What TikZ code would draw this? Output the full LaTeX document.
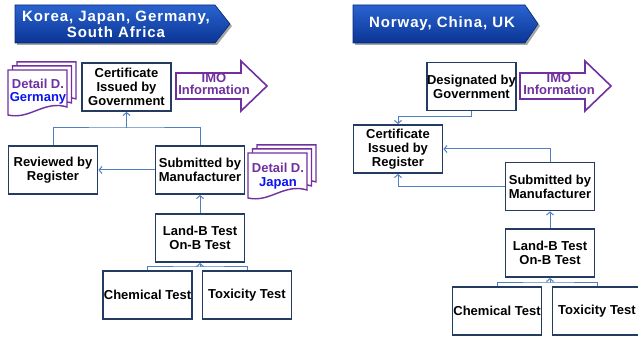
\documentclass[tikz,border=0pt]{standalone}
\usepackage{fontspec}
\setmainfont{Liberation Sans}
\usetikzlibrary{arrows.meta,calc}
\definecolor{navy}{HTML}{243B62}
\definecolor{conn}{HTML}{4F7FC0}
\definecolor{purp}{HTML}{7030A0}
\definecolor{docblue}{HTML}{0A14F0}
\definecolor{bantop}{HTML}{2A63D0}
\definecolor{banbot}{HTML}{0A3594}
\tikzset{
  box/.style={draw=navy,line width=1.8pt,fill=white,minimum width=89pt,minimum height=48pt,inner sep=0pt,align=center,font=\bfseries\fontsize{13}{14}\selectfont},
  arr/.style={draw=conn,line width=1pt,-{Straight Barb[length=3pt,width=7pt]}},
  ln/.style={draw=conn,line width=1pt},
  docline/.style={draw=purp,line width=1.4pt,fill=white},
  doctxt/.style={inner sep=0pt,font=\bfseries\fontsize{13}{14}\selectfont},
  imo/.style={draw=purp,line width=1.6pt,fill=white},
  imotxt/.style={inner sep=0pt,align=center,text=purp,font=\bfseries\fontsize{13}{11.5}\selectfont},
  banner/.style={top color=bantop,bottom color=banbot,draw=banbot!80!black,line width=0.6pt},
  bantxt/.style={inner sep=0pt,align=center,text=white,font=\bfseries\fontsize{15}{16.5}\selectfont\addfontfeature{LetterSpace=6}}
}
\newcommand\mydocstack[2]{%
  \foreach \d in {9,4.5,0}{%
    \filldraw[docline] (#1+\d,#2-0.9*\d) -- (#1+\d+59,#2-0.9*\d) -- (#1+\d+59,#2-0.9*\d+37)
      .. controls (#1+\d+36,#2-0.9*\d+30) and (#1+\d+22,#2-0.9*\d+50) .. (#1+\d,#2-0.9*\d+45) -- cycle;
  }%
}
\begin{document}
\begin{tikzpicture}[x=1pt,y=-1pt]
\useasboundingbox (0,0) rectangle (638,339);
\clip (0,0) rectangle (638,339);
% ---------------- banners
\fill[black!35] (17,7) -- (217,7) -- (232,26) -- (217,45) -- (17,45) -- cycle;
\path[banner] (15,5) -- (215,5) -- (230,24) -- (215,43) -- (15,43) -- cycle;
\node[bantxt] (banL) at (116,24.5) {Korea, Japan, Germany,\\South Africa};
\fill[black!35] (355,7) -- (527,7) -- (540,26) -- (527,45) -- (355,45) -- cycle;
\path[banner] (353,5) -- (525,5) -- (538,24) -- (525,43) -- (353,43) -- cycle;
\node[bantxt] (banR) at (442,24) {Norway, China, UK};
% ---------------- left diagram
\node[box] (cert) at (126.5,87) {Certificate\\Issued by\\Government};
\node[box] (rev) at (53,170) {Reviewed by\\Register};
\node[box] (sub) at (200,170) {Submitted by\\Manufacturer};
\node[box] (land) at (200,238) {Land-B Test\\On-B Test};
\node[box] (chem) at (147.5,295) {Chemical Test};
\node[box] (tox) at (247,295) {Toxicity Test};
\coordinate (j1) at (126.5,128);
\coordinate (j2) at (200,267);
\draw[ln] (rev.north) |- (j1) -| (sub.north);
\draw[arr] (j1) -- (cert.south);
\draw[arr] (sub.west) -- (rev.east);
\draw[arr] (land.north) -- (sub.south);
\draw[ln] (chem.north) |- (j2) -| (tox.north);
\draw[arr] (j2) -- (land.south);
% IMO arrow left
\path[imo] (176,73) -- (241,73) -- (241,61) -- (267,86) -- (241,111) -- (241,99) -- (176,99) -- cycle;
\node[imotxt] (imoL) at (214,84) {IMO\\Information};
\draw[purp,line width=1.6pt] (176,73) -- (241,73);
% documents
\mydocstack{8}{70}
\node[doctxt,text=purp] (gdet) at (38,84) {Detail D.};
\node[doctxt,text=docblue] (gname) at (38,98) {Germany};
\mydocstack{248}{153}
\node[doctxt,text=purp] (jdet) at (278,168) {Detail D.};
\node[doctxt,text=docblue] (jname) at (278,183) {Japan};
% ---------------- right diagram
\node[box] (desg) at (471.5,86.5) {Designated by\\Government};
\node[box] (certR) at (398,149) {Certificate\\Issued by\\Register};
\node[box] (subR) at (550,186.5) {Submitted by\\Manufacturer};
\node[box] (landR) at (550,253) {Land-B Test\\On-B Test};
\node[box] (chemR) at (497,311) {Chemical Test};
\node[box] (toxR) at (597,311) {Toxicity Test};
\coordinate (j3) at (398,117);
\coordinate (j4) at (550,283);
\draw[ln] (desg.south) |- (j3);
\draw[arr] (j3) -- (certR.north);
\draw[arr] (subR.north) |- (certR.east);
\draw[arr] (subR.west) -| (certR.south);
\draw[arr] (landR.north) -- (subR.south);
\draw[ln] (chemR.north) |- (j4) -| (toxR.north);
\draw[arr] (j4) -- (landR.south);
% IMO arrow right
\path[imo] (520,73) -- (585,73) -- (585,61) -- (611,86) -- (585,111) -- (585,99) -- (520,99) -- cycle;
\node[imotxt] (imoR) at (559,84) {IMO\\Information};
\draw[purp,line width=1.6pt] (520,73) -- (585,73);
\end{tikzpicture}
\end{document}
